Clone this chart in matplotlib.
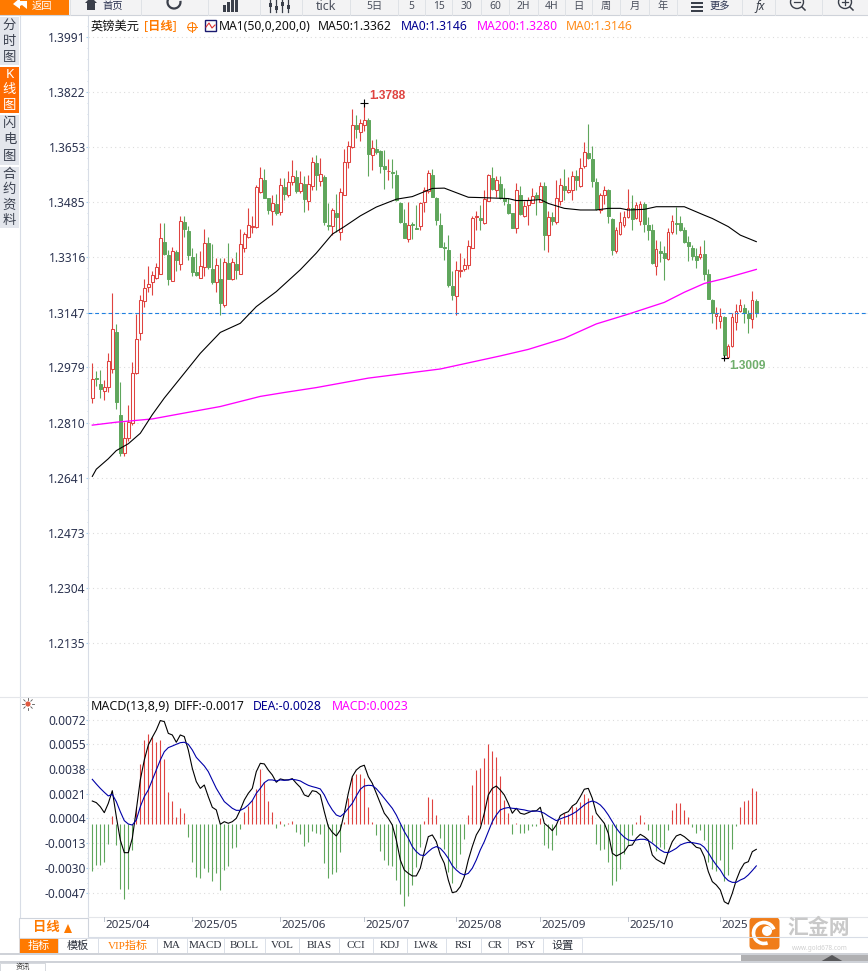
import numpy as np
import matplotlib
matplotlib.use("Agg")
import matplotlib.pyplot as plt
from matplotlib.patches import Rectangle, Circle, Polygon, FancyBboxPatch, Arc
from matplotlib.ticker import FixedLocator, NullFormatter

plt.rcParams['font.family'] = ['Noto Sans', 'Noto Sans CJK SC', 'DejaVu Sans']

# prices are in 1/10000 (13147 = 1.3147), macd values too
opens = [12885,12947,12928,12908,12918,12975,13088,12834,12716,12762,
    12808,12961,13083,13181,13225,13239,13254,13266,13362,13324,
    13242,13332,13295,13425,13397,13317,13272,13254,13285,13359,
    13281,13239,13249,13171,13299,13250,13296,13266,13346,13379,
    13410,13409,13515,13553,13498,13459,13480,13456,13532,13507,
    13548,13561,13518,13540,13490,13536,13605,13551,13563,13415,
    13413,13452,13393,13508,13609,13654,13721,13699,13720,13736,
    13628,13647,13641,13596,13579,13578,13569,13482,13421,13373,
    13417,13406,13413,13484,13519,13569,13499,13415,13348,13339,
    13229,13199,13273,13279,13292,13346,13438,13437,13420,13489,
    13558,13523,13540,13497,13480,13451,13405,13506,13444,13475,
    13483,13507,13486,13533,13385,13439,13425,13489,13534,13517,
    13522,13565,13534,13595,13635,13616,13546,13461,13508,13521,
    13433,13335,13387,13415,13440,13466,13435,13428,13479,13414,
    13399,13290,13335,13328,13311,13393,13420,13420,13399,13363,
    13344,13320,13318,13325,13265,13185,13137,13122,13133,13012,
    13044,13119,13152,13161,13142,13128,13181]
highs = [12992,12968,12971,12941,13022,13207,13112,12935,12813,12864,
    12996,13143,13201,13250,13290,13273,13300,13421,13421,13339,
    13347,13339,13443,13443,13412,13344,13329,13335,13402,13379,
    13357,13315,13313,13313,13359,13313,13332,13402,13394,13468,
    13443,13538,13592,13587,13498,13506,13510,13558,13558,13579,
    13615,13584,13581,13564,13567,13624,13630,13620,13569,13482,
    13467,13510,13528,13648,13671,13771,13752,13740,13788,13742,
    13676,13679,13645,13644,13618,13618,13584,13484,13465,13484,
    13423,13477,13485,13531,13583,13587,13502,13451,13364,13385,
    13275,13306,13329,13315,13368,13444,13459,13477,13523,13571,
    13592,13566,13564,13528,13497,13453,13543,13533,13489,13500,
    13527,13517,13547,13547,13458,13456,13553,13558,13588,13563,
    13580,13583,13619,13668,13724,13657,13558,13512,13534,13524,
    13435,13410,13456,13458,13525,13507,13486,13488,13486,13440,
    13418,13369,13366,13350,13407,13445,13471,13442,13410,13382,
    13353,13346,13350,13369,13279,13187,13165,13160,13136,13052,
    13144,13173,13188,13172,13156,13213,13187]
lows = [12869,12922,12886,12879,12902,12961,12852,12708,12708,12752,
    12801,12959,13063,13165,13211,13201,13250,13266,13322,13232,
    13242,13273,13278,13378,13308,13260,13259,13254,13259,13280,
    13235,13211,13140,13163,13249,13247,13249,13266,13333,13376,
    13392,13407,13512,13497,13449,13415,13446,13446,13492,13500,
    13538,13512,13512,13456,13461,13523,13523,13533,13415,13400,
    13385,13395,13370,13506,13591,13652,13681,13671,13704,13564,
    13584,13633,13574,13526,13553,13528,13490,13421,13374,13363,
    13373,13403,13400,13456,13512,13500,13415,13349,13308,13225,
    13186,13140,13255,13273,13281,13344,13400,13400,13419,13487,
    13523,13502,13494,13477,13449,13405,13392,13446,13438,13415,
    13481,13445,13484,13338,13333,13415,13418,13476,13491,13512,
    13493,13522,13532,13591,13617,13532,13461,13453,13479,13420,
    13323,13330,13384,13410,13435,13399,13432,13415,13394,13369,
    13297,13262,13302,13246,13308,13387,13387,13397,13359,13306,
    13308,13282,13311,13246,13187,13114,13096,13098,13009,13010,
    13042,13093,13149,13114,13083,13098,13132]
closes = [12943,12942,12914,12918,12999,13096,12874,12718,12762,12811,
    12961,13065,13186,13222,13234,13262,13286,13375,13325,13250,
    13335,13308,13427,13404,13322,13272,13262,13289,13359,13285,
    13241,13292,13175,13301,13251,13301,13278,13356,13388,13414,
    13412,13531,13558,13499,13462,13482,13453,13537,13511,13546,
    13565,13520,13543,13496,13540,13607,13567,13571,13425,13413,
    13460,13440,13516,13607,13656,13721,13710,13727,13736,13633,
    13650,13638,13596,13588,13580,13573,13492,13423,13376,13414,
    13414,13404,13482,13522,13574,13502,13429,13349,13346,13232,
    13202,13277,13277,13292,13351,13436,13443,13429,13495,13568,
    13526,13553,13497,13487,13451,13407,13523,13449,13473,13492,
    13505,13497,13536,13384,13439,13427,13499,13539,13522,13522,
    13565,13553,13591,13640,13620,13551,13463,13506,13522,13442,
    13338,13399,13423,13439,13468,13432,13475,13478,13418,13399,
    13299,13340,13329,13314,13395,13426,13418,13399,13363,13350,
    13320,13309,13327,13265,13188,13144,13142,13135,13017,13043,
    13132,13153,13169,13144,13130,13184,13144]

ma50Idx = [0,1,4,6,7,9,12,15,18,23,27,32,37,41,46,52,56,60,63,67,71,76,80,85,88,94,97,
    104,106,109,112,114,118,122,126,129,132,134,138,141,148,153,155,159,162,166]
ma50Vals = [12645,12667,12699,12724,12731,12745,12777,12834,12885,12961,13022,13086,13114,
    13165,13211,13278,13329,13387,13410,13443,13470,13494,13502,13527,13528,13500,13499,
    13496,13490,13490,13493,13481,13466,13461,13461,13466,13466,13461,13463,13471,13471,
    13445,13435,13410,13384,13364]
ma200Idx = [0,6,15,23,32,42,48,56,69,87,102,109,118,126,134,143,148,153,158,166]
ma200Vals = [12802,12811,12821,12839,12859,12890,12902,12917,12946,12974,13014,13034,
    13068,13112,13142,13178,13209,13236,13251,13279]

macdBars = [-31.8,-28.0,-28.0,-25.7,-13.5,6.0,-14.2,-44.4,-51.3,-44.4,
    -17.6,12.1,41.5,58.0,62.1,60.3,56.8,58.0,44.9,22.2,
    16.0,5.3,11.5,7.6,-8.9,-25.9,-36.0,-37.1,-30.2,-32.5,
    -38.9,-33.2,-45.1,-31.4,-28.4,-16.5,-15.3,-3.2,8.7,12.8,
    16.7,24.1,38.0,29.3,16.0,8.7,-2.5,2.3,-0.9,0.7,
    2.5,-5.3,-6.6,-14.7,-12.4,-4.6,-5.7,-6.9,-26.3,-36.7,
    -34.1,-32.5,-19.2,1.8,17.9,32.3,34.6,34.6,32.1,11.9,
    1.8,-7.3,-18.1,-24.5,-28.0,-28.4,-38.3,-48.1,-55.9,-49.0,
    -41.5,-29.1,-15.3,2.3,18.8,17.4,6.4,-9.2,-17.0,-32.5,
    -40.6,-30.2,-20.4,-9.9,6.4,27.0,37.3,38.7,45.6,55.2,
    50.4,46.3,33.2,16.7,8.0,-6.6,0.9,-5.7,-5.7,-3.9,
    -1.1,-1.1,4.4,-14.2,-16.0,-17.4,-7.3,3.0,7.6,7.1,
    12.6,12.1,15.6,20.8,17.9,6.4,-13.5,-17.4,-17.0,-25.7,
    -41.7,-38.9,-30.7,-20.4,-14.2,-7.3,1.6,6.4,1.6,-3.9,
    -11.9,-18.1,-15.3,-17.0,-3.9,9.9,14.7,14.7,9.9,5.0,
    -1.8,-6.0,-3.9,-10.8,-25.7,-30.7,-32.1,-24.5,-38.9,-34.8,
    -17.0,-1.1,11.9,16.0,16.7,25.0,22.9]
diffVals = [16.0,14.9,12.1,8.0,14.4,23.1,5.3,-10.8,-19.5,-19.5,
    -9.6,9.9,30.5,44.2,54.5,59.8,64.8,71.3,70.6,62.5,
    61.4,56.4,61.4,60.3,51.1,38.5,29.3,24.7,27.0,19.0,
    11.7,9.9,0.0,1.8,0.7,1.8,4.1,9.9,16.7,21.3,
    24.7,36.2,41.9,41.5,37.3,33.9,28.9,31.2,30.5,30.5,
    31.4,28.2,25.4,20.2,19.0,23.1,22.5,20.2,8.7,-1.6,
    -5.5,-8.0,-3.9,7.6,21.3,32.8,37.3,39.6,40.6,32.8,
    28.2,21.3,14.4,7.6,4.1,-0.5,-10.8,-24.5,-31.4,-33.7,
    -35.5,-35.5,-30.2,-18.8,-8.5,-7.3,-11.9,-21.1,-26.8,-38.3,
    -47.0,-46.3,-42.8,-36.0,-24.5,-15.3,-7.3,-2.7,7.6,20.2,
    24.7,26.3,23.6,20.2,14.4,7.6,11.0,7.6,6.9,8.0,
    9.2,9.2,11.7,0.7,-1.6,-4.4,-0.5,6.0,7.6,8.7,
    12.6,14.4,19.0,24.1,24.7,17.9,7.6,4.1,0.7,-6.2,
    -19.9,-21.8,-20.4,-18.8,-14.7,-14.2,-9.6,-6.9,-8.5,-10.8,
    -21.1,-24.1,-25.7,-27.3,-18.8,-11.9,-8.0,-6.9,-8.5,-10.8,
    -13.1,-15.8,-16.5,-22.2,-32.5,-39.4,-41.7,-45.1,-53.2,-54.8,
    -47.4,-38.3,-31.4,-26.8,-25.7,-18.8,-17.2]
deaVals = [30.9,27.7,24.7,22.0,19.5,20.6,15.6,8.7,2.5,0.2,
    -0.5,3.0,12.1,19.0,23.6,30.5,37.3,44.2,49.9,52.7,
    53.8,55.0,56.1,56.4,55.0,51.1,46.0,43.1,40.1,36.2,
    30.5,24.7,20.2,15.6,13.3,11.0,9.6,9.6,11.0,13.3,
    16.3,21.3,24.7,28.6,30.5,30.5,29.8,30.5,30.2,30.5,
    30.9,30.5,29.8,28.2,26.8,25.9,25.2,24.3,20.2,14.4,
    9.9,6.4,5.3,7.6,11.0,14.4,19.5,24.1,26.3,26.8,
    26.6,24.5,21.3,17.9,14.4,11.0,6.4,0.7,-5.0,-9.6,
    -15.3,-18.8,-21.1,-21.5,-18.8,-16.5,-15.3,-16.5,-19.5,-23.4,
    -28.4,-31.4,-33.7,-34.8,-33.7,-30.2,-24.5,-17.6,-11.9,-5.0,
    1.8,6.4,9.9,11.0,11.5,11.0,10.8,10.3,9.9,9.2,
    8.9,9.2,8.7,7.6,5.7,4.1,2.5,3.7,4.8,5.7,
    7.1,8.7,11.0,13.3,15.1,16.0,15.1,13.3,10.3,6.4,
    1.8,-2.7,-6.2,-8.9,-10.8,-11.2,-10.8,-10.3,-10.3,-11.2,
    -13.1,-15.3,-17.6,-19.2,-19.5,-18.1,-16.5,-14.2,-13.1,-12.4,
    -12.6,-13.1,-13.7,-15.8,-19.5,-24.1,-28.0,-31.4,-36.0,-38.7,
    -39.9,-39.9,-38.3,-37.1,-34.8,-31.8,-28.6]

priceTicks = [1.3991,1.3822,1.3653,1.3485,1.3316,1.3147,1.2979,1.2810,1.2641,1.2473,1.2304,1.2135]
macdTicks = [0.0072,0.0055,0.0038,0.0021,0.0004,-0.0013,-0.0030,-0.0047]
monthLabels = ['2025/04','2025/05','2025/06','2025/07','2025/08','2025/09','2025/10','2025']
monthPx = [106,194,282,366,458,542,630,722]
lastPrice = 1.3146
markedHigh = 68   # candle carrying the 1.3788 label
markedLow = 158   # candle carrying the 1.3009 label

toolLabels = ['tick','5日','5','15','30','60','2H','4H','日','周','月','年']
toolEdges = [302,350,398,425,452,481,509,538,565,592,620,649,677]
tabLabels = ['指标','模板','VIP指标','MA','MACD','BOLL','VOL','BIAS','CCI','KDJ','LW&','RSI','CR','PSY','设置']
tabEdges = [19,58,98,157,187,224,265,299,339,373,407,446,481,508,543,582]
sideTabs = [('分时图',17,65),('K线图',67,113),('闪电图',115,165),('合约资料',167,228)]

RED = '#df4340'
GREEN = '#5fa65c'
ORANGE = '#ff7a00'
TEXT = '#2b3350'
W, H = 868.0, 971.0

fig = plt.figure(figsize=(8.68, 9.71), dpi=100, facecolor='white')


def pixelAxes(left, top, right, bottom):
    return fig.add_axes([left/W, 1-bottom/H, (right-left)/W, (bottom-top)/H])


def styleAxes(ax, ticks, fmt, minorStep):
    ax.set_xlim(AX_LEFT_IDX, AX_RIGHT_IDX)
    ax.set_xticks([])
    for side in ['top', 'right', 'bottom']:
        ax.spines[side].set_visible(False)
    ax.spines['left'].set_color('#d8dde6')
    ax.yaxis.set_major_locator(FixedLocator(ticks))
    ax.set_yticklabels([fmt % t for t in ticks], fontsize=8.6, color=TEXT)
    ax.tick_params(axis='y', which='major', length=1.5, color='#a8d4f0', pad=0)
    ax.tick_params(axis='y', which='minor', length=1, color='#c8d8e8')
    ax.yaxis.set_minor_locator(FixedLocator(
        [t + k*minorStep/5 for t in ticks for k in range(1, 5)]))
    ax.yaxis.set_minor_formatter(NullFormatter())
    ax.grid(axis='y', which='major', linestyle=(0, (1, 3)), color='#dcdcdc', linewidth=0.8)
    ax.set_axisbelow(True)


# candle i sits at px 92.3 + 4*i
AX_LEFT_IDX = (88 - 92.3)/4
AX_RIGHT_IDX = (868 - 92.3)/4

# ---- price panel
ax = pixelAxes(88, 15, 868, 697)
pricePerPx = 0.0003063
ax.set_ylim(1.3147 - (697-312.5)*pricePerPx, 1.3147 + (312.5-15)*pricePerPx)
styleAxes(ax, priceTicks, '%.4f', 0.0169)

o = np.array(opens)/1e4
h = np.array(highs)/1e4
l = np.array(lows)/1e4
c = np.array(closes)/1e4
xs = np.arange(len(o))
up = c >= o

ax.vlines(xs[up], l[up], h[up], color=RED, linewidth=0.8, zorder=2)
ax.vlines(xs[~up], l[~up], h[~up], color=GREEN, linewidth=0.8, zorder=2)
ax.bar(xs[up], (c-o)[up], bottom=o[up], width=0.6, facecolor='white',
       edgecolor=RED, linewidth=0.75, zorder=3)
ax.bar(xs[~up], (o-c)[~up], bottom=c[~up], width=0.65, facecolor=GREEN,
       edgecolor=GREEN, linewidth=0.7, zorder=3)

ax.axhline(lastPrice, color='#1f7fe0', linewidth=0.8, linestyle=(0, (3.5, 2.5)), zorder=4)
ax.plot(np.array(ma200Idx), np.array(ma200Vals)/1e4, color='#ff00ff', linewidth=0.95, zorder=5)
ax.plot(np.array(ma50Idx), np.array(ma50Vals)/1e4, color='black', linewidth=0.8, zorder=5)

ax.plot([markedHigh], [h[markedHigh]], marker='+', color='black', markersize=5.5,
        markeredgewidth=0.8, zorder=6)
ax.plot([markedLow, markedLow+1], [l[markedLow], l[markedLow]], color='black', linewidth=0.8, zorder=6)
ax.plot([markedLow], [l[markedLow]], marker='+', color='black', markersize=4.5,
        markeredgewidth=0.8, zorder=6)
ax.annotate('%.4f' % h[markedHigh], (markedHigh, h[markedHigh]), xytext=(3.5, 5),
            textcoords='offset points', color=RED, fontsize=8.6, fontweight='bold',
            va='center', family='Liberation Sans')
ax.annotate('%.4f' % l[markedLow], (markedLow, l[markedLow]), xytext=(3.5, -5.8),
            textcoords='offset points', color='#6fae6c', fontsize=8.6, fontweight='bold',
            va='center', family='Liberation Sans')

# ---- macd panel
ax2 = pixelAxes(88, 698, 868, 917)
macdPerPx = 0.00006873
ax2.set_ylim(-(917-824.3)*macdPerPx, (824.3-698)*macdPerPx)
styleAxes(ax2, macdTicks, '%.4f', 0.0017)
bars = np.array(macdBars)/1e4
ax2.vlines(xs[bars >= 0], 0, bars[bars >= 0], color=RED, linewidth=0.8, zorder=2)
ax2.vlines(xs[bars < 0], 0, bars[bars < 0], color=GREEN, linewidth=0.8, zorder=2)
ax2.plot(xs, np.array(diffVals)/1e4, color='black', linewidth=0.8, zorder=4)
ax2.plot(xs, np.array(deaVals)/1e4, color='#0000a8', linewidth=0.8, zorder=4)

# ---- everything around the chart is drawn in pixel coordinates
ui = fig.add_axes([0, 0, 1, 1], facecolor='none', zorder=10)
ui.set_xlim(0, W)
ui.set_ylim(H, 0)
ui.axis('off')


def box(x0, y0, x1, y1, fc, ec='none', lw=0.8):
    ui.add_patch(Rectangle((x0, y0), x1-x0, y1-y0, facecolor=fc, edgecolor=ec, linewidth=lw))


def label(x, y, s, size=8.6, color=TEXT, ha='left', **kw):
    ui.text(x, y, s, fontsize=size, color=color, ha=ha, va='center', clip_on=True, **kw)


# toolbar, the strip is only 15px high so its labels stay small
box(0, 0, W, 15, '#f3f3f4')
ui.plot([0, W], [15.5, 15.5], color='#cfd3da', linewidth=0.8)
box(0, 0, 69, 15, ORANGE)
label(42, 6.5, '返回', size=7.4, color='white', ha='center')
ui.add_patch(Polygon([[13, 4], [20, -2], [20, 1], [27, 1], [27, 9], [22, 5], [20, 6], [20, 9]],
                     facecolor='white', edgecolor='none'))
for e in [70, 141, 208, 260, 302, 350, 398, 425, 452, 481, 509, 538, 565, 592, 620, 649, 677, 742, 775, 822]:
    ui.plot([e, e], [0, 15], color='#dfe2e6', linewidth=0.7)
label(113, 6.5, '首页', size=7.4, ha='center')
ui.add_patch(Polygon([[85, 3], [91, -3], [97, 3], [95, 3], [95, 10], [87, 10], [87, 3]],
                     facecolor='#3a3f4a', edgecolor='none'))
ui.add_patch(Arc((174, 2), 13, 13, theta1=-10, theta2=250, color='#3a3f4a', linewidth=1.6))
for bx, bh in [(223, 7), (227, 10), (231, 13), (235, 15)]:
    box(bx, 12-bh, bx+2.5, 12, '#3a3f4a')
for cx, cy in [(270, 3), (276, 6), (282, 2), (288, 5)]:
    ui.plot([cx, cx], [0, 12], color='#3a3f4a', linewidth=0.9)
    box(cx-1.5, cy, cx+1.5, cy+4, '#3a3f4a')
for i, t in enumerate(toolLabels):
    size = 9 if t == 'tick' else 7.4
    label((toolEdges[i]+toolEdges[i+1])/2, 6.5, t, size=size, color='#4a4f5c', ha='center')
for ly in [2, 6, 10]:
    box(691, ly, 703, ly+2, '#3a3f4a')
label(720, 6.5, '更多', size=7.4, ha='center')
label(760, 6.5, 'fx', size=8.6, color='#3a3f4a', ha='center', fontweight='bold', style='italic')
for zx in [797, 845]:
    ui.add_patch(Circle((zx, 2), 6.5, facecolor='none', edgecolor='#3a3f4a', linewidth=1.0))
    ui.plot([zx+5, zx+8], [7, 10], color='#3a3f4a', linewidth=1.1)
    ui.plot([zx-3, zx+3], [2, 2], color='#3a3f4a', linewidth=0.9)
ui.plot([845, 845], [-1, 5], color='#3a3f4a', linewidth=0.9)

# side tabs
ui.plot([19.5, 19.5], [16, 917], color='#d8dde6', linewidth=0.8)
for name, top, bottom in sideTabs:
    on = name == 'K线图'
    box(0, top, 19, bottom, '#ff6a00' if on else '#e3e6ec')
    step = (bottom-top)/len(name)
    for k, ch in enumerate(name):
        label(9.5, top+step*(k+0.5), ch, size=9.6, color='white' if on else '#3c4250', ha='center')

# header texts
label(91, 26, '英镑美元', size=8.8, color='#111111')
label(144, 26, '[日线]', size=8.8, color=ORANGE, fontweight='bold')
ui.add_patch(Circle((192, 27), 4.2, facecolor='none', edgecolor=ORANGE, linewidth=0.7))
ui.plot([187, 197], [27, 27], color=ORANGE, linewidth=0.7)
ui.plot([192, 192], [22, 32], color=ORANGE, linewidth=0.7)
box(205, 20, 216, 31, 'white', ec='#1a1a70', lw=1.0)
ui.plot([206, 209, 212, 215], [27, 23, 28, 25], color='#dd3333', linewidth=0.8)
label(219, 26, 'MA1(50,0,200,0)', size=8.8, color='#111111')
label(318, 26, 'MA50:1.3362', size=8.8, color='#111111')
label(401, 26, 'MA0:1.3146', size=8.8, color='#000090')
label(477, 26, 'MA200:1.3280', size=8.8, color='#ff00ff')
label(566, 26, 'MA0:1.3146', size=8.8, color='#ff8c1a')
label(91, 707, 'MACD(13,8,9)', size=9.0, color='#111111')
label(174, 707, 'DIFF:-0.0017', size=8.8, color='#111111')
label(253, 707, 'DEA:-0.0028', size=8.8, color='#000090')
label(332, 707, 'MACD:0.0023', size=8.8, color='#ff00ff')
ui.plot([0, W], [697.5, 697.5], color='#e4e6ea', linewidth=0.8)
ui.add_patch(Circle((28, 704), 2.6, facecolor='#e05a40', edgecolor='none'))
for a in np.arange(0, 360, 45):
    ca, sa = np.cos(np.radians(a)), np.sin(np.radians(a))
    ui.plot([28+4*ca, 28+6*ca], [704+4*sa, 704+6*sa], color='#555555', linewidth=0.6)

# date row
ui.plot([88, 868], [917.5, 917.5], color='#e4e6ea', linewidth=0.8)
ui.plot([88, 868], [937.5, 937.5], color='#d8dde6', linewidth=0.8)
for px, t in zip(monthPx, monthLabels):
    ui.plot([px-2, px-2], [917, 921], color='#bfc5cf', linewidth=0.7)
    label(px, 926, t, size=8.4, color='#33384a', fontweight='bold')
box(19, 918, 88, 938, 'white', ec='#cfd4dc')
label(46, 928, '日线', size=9.6, color=ORANGE, ha='center', fontweight='bold')
ui.add_patch(Polygon([[64, 933], [72, 933], [68, 924]], facecolor=ORANGE, edgecolor='none'))

# tabs
for i, t in enumerate(tabLabels):
    x0, x1 = tabEdges[i], tabEdges[i+1]
    on = i == 0
    box(x0, 938, x1, 953, ORANGE if on else 'white', ec='#d8dde6', lw=0.6)
    col = 'white' if on else (ORANGE if t == 'VIP指标' else '#2a2f3a')
    family = ['Liberation Serif', 'Noto Sans CJK SC']
    label((x0+x1)/2, 945.5, t, size=8.0, color=col, ha='center', family=family)

box(0, 953, W, 955, '#cfd2d8')
box(741, 955, W, 962, '#b0b0b2')
ui.add_patch(Polygon([[820, 962], [832, 955], [844, 962]], facecolor='#58585a', edgecolor='none'))
box(0, 961, W, 963, '#cfd2d8')
box(0, 963, 45, H, 'white', ec='#cfd2d8', lw=0.6)
label(23, 966.8, '资讯', size=5.2, color='#333333', ha='center')

# logo
ui.add_patch(FancyBboxPatch((751, 919), 27, 29, boxstyle='round,pad=1.5,rounding_size=4',
                            facecolor='#f07d1a', edgecolor='none'))
ui.add_patch(Arc((764, 933), 21, 21, theta1=70, theta2=340, color='white', linewidth=2.6))
ui.add_patch(Circle((767, 931), 5, facecolor='white', edgecolor='none'))
label(819, 929, '汇金网', size=15, color='#c9c9c9', ha='center', fontweight='bold')
label(820, 948, 'www.gold678.com', size=4.6, color='#cfcfcf', ha='center')

fig.savefig('out.png', dpi=100)
